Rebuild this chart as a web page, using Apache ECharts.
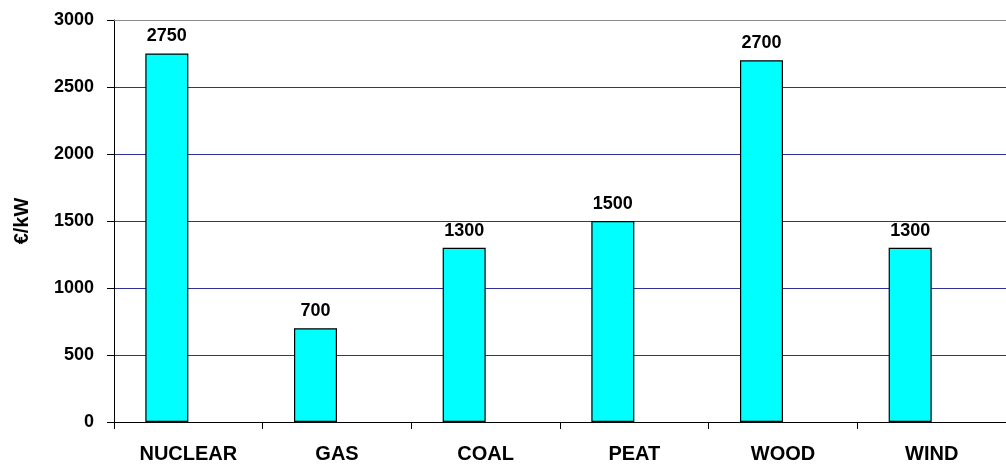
<!DOCTYPE html>
<html>
<head>
<meta charset="utf-8">
<script src="https://cdn.jsdelivr.net/npm/echarts@6/dist/echarts.min.js"></script>
<style>
  html, body { margin: 0; padding: 0; background: #fff; }
  #chart { width: 1006px; height: 466px; }
</style>
</head>
<body>
<div id="chart"></div>
<script>
// Investment cost per installed kW by generation type
const categories = ['NUCLEAR', 'GAS', 'COAL', 'PEAT', 'WOOD', 'WIND'];
const costPerKw = [2750, 700, 1300, 1500, 2700, 1300];
const yAxisTitle = '€/kW';
const yTicks = { min: 0, max: 3000, interval: 500 };

const FONT = '"Liberation Sans", Arial, sans-serif';
const NAVY = '#30309a';

const chart = echarts.init(document.getElementById('chart'), null, { renderer: 'canvas' });

chart.setOption({
  animation: false,
  backgroundColor: '#ffffff',
  grid: { left: 114, right: -9, top: 20, bottom: 44, containLabel: false },
  xAxis: {
    type: 'category',
    data: categories,
    axisLine: { lineStyle: { color: '#000', width: 1 } },
    axisTick: { show: true, length: 7, lineStyle: { color: '#000' } },
    axisLabel: {
      color: '#000', fontFamily: FONT, fontWeight: 'bold', fontSize: 20, margin: 22
    }
  },
  yAxis: {
    type: 'value',
    min: yTicks.min,
    max: yTicks.max,
    interval: yTicks.interval,
    name: yAxisTitle,
    nameLocation: 'middle',
    nameGap: 82,
    nameTextStyle: { color: '#000', fontFamily: FONT, fontWeight: 'bold', fontSize: 20 },
    axisLine: { show: true, lineStyle: { color: '#000', width: 1 } },
    axisTick: { show: true, length: 7, lineStyle: { color: '#000' } },
    axisLabel: {
      color: '#000', fontFamily: FONT, fontWeight: 'bold', fontSize: 18, margin: 20,
      formatter: (v) => String(v)
    },
    splitLine: { show: true, lineStyle: { color: NAVY, width: 1.2 } }
  },
  series: [
    {
      type: 'bar',
      data: costPerKw,
      barWidth: 43,
      barGap: '0%',
      itemStyle: { color: '#00ffff', borderColor: '#000', borderWidth: 1.2 },
      label: {
        show: true,
        position: 'top',
        distance: 8,
        color: '#000',
        fontFamily: FONT,
        fontWeight: 'bold',
        fontSize: 18
      },
      // grey plot-area border along the top edge
      markLine: {
        silent: true,
        symbol: 'none',
        label: { show: false },
        emphasis: { disabled: true },
        lineStyle: { color: '#8c8c8c', type: 'solid', width: 1.2 },
        data: [{ yAxis: yTicks.max }]
      }
    },
    {
      // empty second slot in each category group
      type: 'bar',
      data: [],
      barWidth: 43,
      barGap: '0%'
    }
  ]
});
</script>
</body>
</html>
